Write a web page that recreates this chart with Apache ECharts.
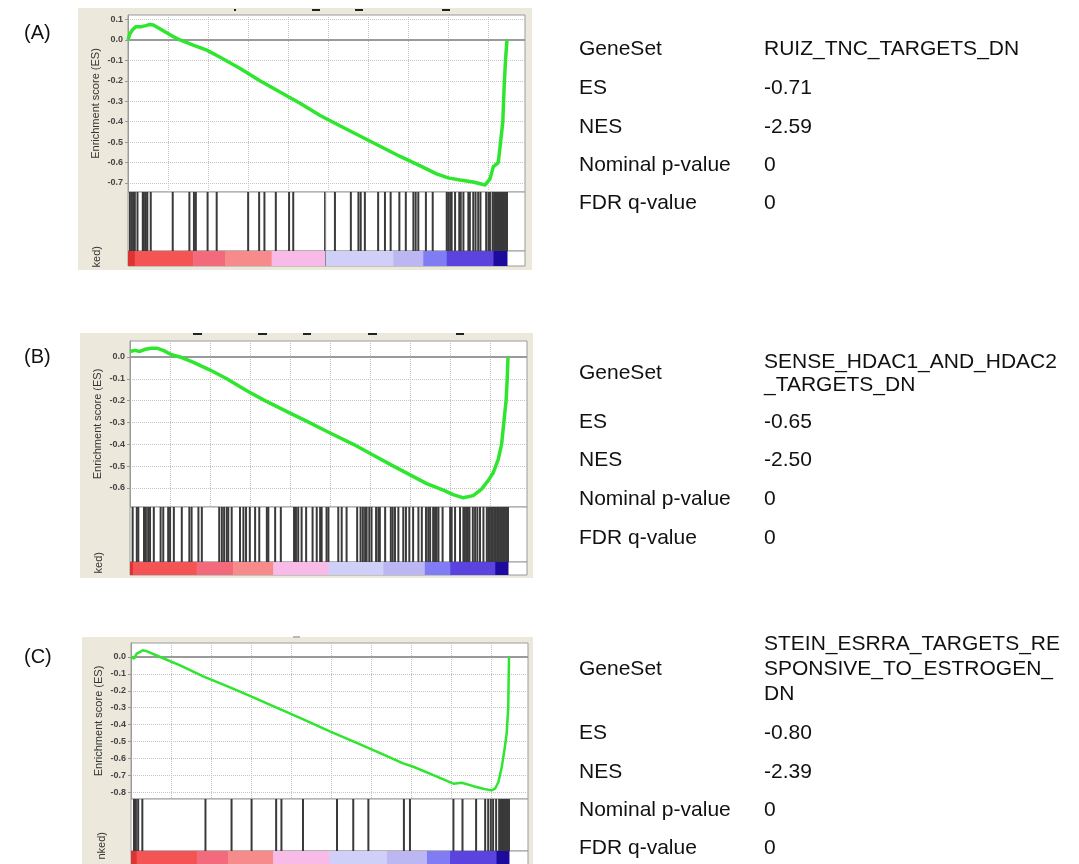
<!DOCTYPE html>
<html lang="en">
<head>
<meta charset="UTF-8">
<title>GSEA enrichment plots</title>
<script src="https://cdn.jsdelivr.net/npm/echarts@6/dist/echarts.min.js"></script>
<style>
  html, body { margin: 0; padding: 0; background: #fff; }
  #main { width: 1079px; height: 864px; }
</style>
</head>
<body>
<div id="main"></div>
<script>
// running enrichment score: [position in ranked list (% of genes), ES]
const esA = [[0,0],[0.5,0.03],[1.2,0.05],[2.1,0.065],[3.6,0.065],[4.0,0.06],[4.7,0.07],[5.6,0.075],[6.7,0.073],
  [8.4,0.055],[11.1,0.025],[13.7,0],[17.2,-0.025],[20.8,-0.05],[24.3,-0.085],[29.6,-0.14],[34.8,-0.2],
  [40.1,-0.255],[45.4,-0.31],[50.7,-0.37],[55.9,-0.42],[61.2,-0.47],[66.5,-0.52],[71.8,-0.57],[77.0,-0.615],
  [81.4,-0.655],[84.5,-0.675],[87.6,-0.685],[91.1,-0.695],[94.2,-0.71],[95.5,-0.68],[96.4,-0.62],[97.7,-0.6],
  [98.3,-0.5],[98.9,-0.4],[99.2,-0.25],[99.6,-0.1],[100,0]];
const esB = [[0,0.025],[1.3,0.03],[2.6,0.025],[4.0,0.035],[5.7,0.04],[7.1,0.04],[8.8,0.03],[11.0,0.01],[13.2,0],
  [16.8,-0.025],[21.2,-0.06],[25.6,-0.1],[30.9,-0.155],[35.7,-0.2],[41.4,-0.249],[46.7,-0.294],[52.0,-0.34],
  [59.1,-0.4],[64.4,-0.45],[69.7,-0.5],[74.1,-0.54],[78.5,-0.58],[82.9,-0.61],[85.5,-0.63],[88.2,-0.645],
  [90.8,-0.635],[93.0,-0.605],[94.8,-0.565],[96.1,-0.53],[97.4,-0.47],[98.3,-0.4],[98.9,-0.3],[99.5,-0.2],
  [99.8,-0.1],[100,0]];
const esC = [[0,0],[0.8,-0.01],[1.5,0.02],[2.4,0.03],[3.1,0.04],[4.1,0.035],[7.7,0],[13.0,-0.05],[19.1,-0.115],
  [26.2,-0.18],[31.9,-0.235],[38.5,-0.3],[45.6,-0.37],[52.6,-0.44],[58.8,-0.5],[65.0,-0.56],[72.0,-0.63],
  [74.7,-0.65],[80.0,-0.7],[85.3,-0.75],[87.5,-0.745],[90.6,-0.765],[93.2,-0.78],[95.4,-0.79],[96.3,-0.78],
  [97.2,-0.74],[98.1,-0.65],[98.8,-0.55],[99.4,-0.45],[99.8,-0.3],[100,0]];

// positions of gene-set members in the ranked list (%)
const hitsA = [0.5,1.0,1.4,1.8,2.5,3.9,4.2,4.7,5.1,6.0,11.8,16.2,17.4,17.9,21.0,23.4,31.7,34.6,36.0,39.0,
  42.5,43.6,52.0,54.6,58.8,60.8,61.4,62.5,66.0,67.8,69.3,71.6,73.3,75.3,75.9,76.6,78.6,80.4,84.1,84.5,85.0,
  85.4,86.3,87.4,87.8,88.5,89.8,90.2,91.1,91.7,92.4,93.0,94.5,95.1,95.5,96.2,96.6,97.0,97.3,97.6,97.9,98.2,
  98.5,98.8,99.1,99.4,99.7,100];
const hitsB = [0.7,1.8,2.2,3.7,4.2,4.8,5.3,6.3,8.1,8.8,10.1,10.6,11.6,13.7,15.7,16.3,18.1,19.0,23.6,24.3,
  24.9,25.6,26.0,26.9,29.1,30.0,30.7,31.7,33.1,34.2,36.2,36.6,38.4,39.9,43.4,43.9,44.5,45.4,46.6,48.3,49.4,
  50.3,50.7,52.0,52.5,55.1,56.0,57.3,60.1,61.0,61.6,62.2,62.6,63.3,63.9,65.1,65.7,66.1,67.5,69.0,69.5,70.1,
  71.0,72.3,73.0,73.9,74.9,76.3,77.2,78.3,78.9,79.4,80.2,80.7,81.1,81.6,82.7,84.7,85.1,86.0,87.3,88.2,88.6,
  89.0,89.4,89.8,90.7,91.3,91.9,92.6,93.5,94.4,94.8,95.2,95.6,96.0,96.4,96.8,97.2,97.6,98.0,98.4,98.8,99.2,
  99.6,100];
const hitsC = [0.8,1.3,1.9,3.0,19.7,26.6,31.9,38.4,39.8,45.5,54.5,58.8,62.8,72.2,73.8,85.3,87.7,91.3,93.7,
  94.5,95.2,95.8,96.6,97.4,97.7,98.0,98.3,98.6,98.9,99.2,99.5,99.8,100];

// ranked-metric heat strip: [from %, to %, level 1 (most positive) .. 10 (most negative)]
const heatA = [[0,1.8,1],[1.8,17.2,2],[17.2,25.6,3],[25.6,37.9,4],[37.9,52,5],[52,70,6],[70,77.9,7],
  [77.9,84.1,8],[84.1,96.4,9],[96.4,100,10]];
const heatB = [[0,0.8,1],[0.8,17.6,2],[17.6,27.3,3],[27.3,37.9,4],[37.9,52.5,5],[52.5,67,6],[67,78,7],
  [78,84.7,8],[84.7,96.6,9],[96.6,100,10]];
const heatC = [[0,1.5,1],[1.5,17.4,2],[17.4,25.7,3],[25.7,37.6,4],[37.6,52.5,5],[52.5,67.7,6],[67.7,78.3,7],
  [78.3,84.4,8],[84.4,96.7,9],[96.7,100,10]];

const ticksA = [0.1, 0, -0.1, -0.2, -0.3, -0.4, -0.5, -0.6, -0.7];
const ticksB = [0, -0.1, -0.2, -0.3, -0.4, -0.5, -0.6];
const ticksC = [0, -0.1, -0.2, -0.3, -0.4, -0.5, -0.6, -0.7, -0.8];

const statLabels = ['ES', 'NES', 'Nominal p-value', 'FDR q-value'];
const geneSetA = ['RUIZ_TNC_TARGETS_DN'];
const geneSetB = ['SENSE_HDAC1_AND_HDAC2', '_TARGETS_DN'];
const geneSetC = ['STEIN_ESRRA_TARGETS_RE', 'SPONSIVE_TO_ESTROGEN_', 'DN'];
const statsA = ['-0.71', '-2.59', '0', '0'];
const statsB = ['-0.65', '-2.50', '0', '0'];
const statsC = ['-0.80', '-2.39', '0', '0'];

const levelColors = ['#dd3333', '#f45454', '#f26a7c', '#f78a8a', '#f8bae6',
  '#d0cff8', '#bcb7f3', '#7f7cf4', '#5b43e0', '#1d0b9e'];

// layout of each panel (pixels)
const panels = [
  { tag: '(A)', tagY: 33, es: esA, hits: hitsA, heat: heatA, ticks: ticksA, geneSet: geneSetA, stats: statsA,
    frame: [78, 8, 454, 262], left: 128, top: 15, width: 397, mainH: 177, hitsH: 59, barH: 15,
    yMin: -0.744, yMax: 0.122, xMax: 104.75, xStep: 10.554, zeroCross: 52,
    rankText: 'ked)', rankPos: [97, 246], nameY: [49], statY: [88, 127, 165, 203],
    marks: [[234, 9, 2, 2], [312, 9, 8, 2], [355, 9, 8, 2], [442, 9, 8, 2]] },
  { tag: '(B)', tagY: 357, es: esB, hits: hitsB, heat: heatB, ticks: ticksB, geneSet: geneSetB, stats: statsB,
    frame: [80, 333, 453, 245], left: 130, top: 341, width: 397, mainH: 166, hitsH: 55, barH: 13,
    yMin: -0.687, yMax: 0.073, xMax: 105.03, xStep: 10.582, zeroCross: null,
    rankText: 'ked)', rankPos: [99, 552], nameY: [362, 385], statY: [422, 460, 499, 538],
    marks: [[193, 333, 9, 2], [258, 333, 9, 2], [303, 333, 8, 2], [368, 333, 9, 2], [456, 333, 8, 2]] },
  { tag: '(C)', tagY: 657, es: esC, hits: hitsC, heat: heatC, ticks: ticksC, geneSet: geneSetC, stats: statsC,
    frame: [82, 637, 451, 227], left: 131, top: 643, width: 397, mainH: 156, hitsH: 52, barH: 14,
    yMin: -0.841, yMax: 0.083, xMax: 105.03, xStep: 10.582, zeroCross: null,
    rankText: 'nked)', rankPos: [102, 832], nameY: [644, 669, 694], statY: [733, 772, 810, 848],
    marks: [[293, 636, 7, 2]] }
];

function hitItem(params, api) {
  const x = api.value(0);
  const top = api.coord([x, 1]);
  const bot = api.coord([x, 0]);
  return {
    type: 'rect',
    shape: { x: top[0] - 1, y: top[1], width: 2, height: bot[1] - top[1] },
    style: { fill: '#3a3a3a' }
  };
}

function heatItem(params, api) {
  const a = api.coord([api.value(0), 1]);
  const b = api.coord([api.value(1), 0]);
  return {
    type: 'rect',
    shape: { x: a[0], y: a[1], width: b[0] - a[0] + 0.5, height: b[1] - a[1] },
    style: { fill: api.visual('color') }
  };
}

const grids = [], xAxes = [], yAxes = [], series = [], graphics = [], heatSeriesIdx = [];
const font = '"Liberation Sans", Arial, sans-serif';

panels.forEach(function (p, i) {
  const g = i * 3;
  const gridBase = { left: p.left, width: p.width, show: true, backgroundColor: '#fff',
    borderColor: '#9a9a9a', borderWidth: 1, outerBoundsMode: 'none' };
  grids.push(Object.assign({}, gridBase, { top: p.top, height: p.mainH }));
  grids.push(Object.assign({}, gridBase, { top: p.top + p.mainH, height: p.hitsH }));
  grids.push(Object.assign({}, gridBase, { top: p.top + p.mainH + p.hitsH, height: p.barH }));

  xAxes.push({ type: 'value', gridIndex: g, min: 0, max: p.xMax, interval: p.xStep,
    axisLabel: { show: false }, axisTick: { show: false }, axisLine: { show: false },
    splitLine: { show: true, lineStyle: { type: 'dotted', color: '#c4c4c4', width: 1 } } });
  xAxes.push({ type: 'value', gridIndex: g + 1, min: 0, max: p.xMax, show: false });
  xAxes.push({ type: 'value', gridIndex: g + 2, min: 0, max: p.xMax, show: false });

  yAxes.push({
    type: 'value', gridIndex: g, min: p.yMin, max: p.yMax,
    name: 'Enrichment score (ES)', nameLocation: 'middle', nameGap: 27,
    nameTextStyle: { fontSize: 11, color: '#333', fontFamily: font },
    axisLine: { show: true, lineStyle: { color: '#9a9a9a' } },
    axisTick: { show: true, length: 3, customValues: p.ticks, lineStyle: { color: '#9a9a9a' } },
    axisLabel: { customValues: p.ticks, fontSize: 9, fontWeight: 'bold', color: '#444', margin: 5,
      fontFamily: font, formatter: function (v) { return v.toFixed(1); } },
    splitLine: { show: true, lineStyle: { type: 'dotted', color: '#c4c4c4', width: 1 } }
  });
  yAxes.push({ type: 'value', gridIndex: g + 1, min: 0, max: 1, show: false });
  yAxes.push({ type: 'value', gridIndex: g + 2, min: 0, max: 1, show: false });

  series.push({
    type: 'line', xAxisIndex: g, yAxisIndex: g, data: p.es, showSymbol: false, z: 5,
    lineStyle: { color: '#2ee62e', width: i === 2 ? 2.5 : 3.5 },
    markLine: { silent: true, symbol: 'none', label: { show: false },
      lineStyle: { color: '#9a9a9a', type: 'solid', width: 2 }, data: [{ yAxis: 0 }] }
  });
  const hitSeries = {
    type: 'custom', xAxisIndex: g + 1, yAxisIndex: g + 1, renderItem: hitItem,
    data: p.hits.map(function (h) { return [h]; }), encode: { x: 0 }, silent: true
  };
  const heatSeries = {
    type: 'custom', xAxisIndex: g + 2, yAxisIndex: g + 2, renderItem: heatItem,
    data: p.heat, encode: { x: [0, 1] }, silent: true
  };
  if (p.zeroCross !== null) {
    const ml = { silent: true, symbol: 'none', label: { show: false },
      lineStyle: { color: '#8a8a8a', type: 'solid', width: 1 }, data: [{ xAxis: p.zeroCross }] };
    hitSeries.markLine = ml;
    heatSeries.markLine = ml;
  }
  series.push(hitSeries);
  heatSeriesIdx.push(series.length);
  series.push(heatSeries);

  // beige frame of the screenshot and leftover title fragments
  graphics.push({ type: 'rect', z: -10, shape: { x: p.frame[0], y: p.frame[1], width: p.frame[2], height: p.frame[3] },
    style: { fill: '#ece9dc' } });
  p.marks.forEach(function (m) {
    graphics.push({ type: 'rect', z: -5, shape: { x: m[0], y: m[1], width: m[2], height: m[3] },
      style: { fill: i === 2 ? '#b8b8b8' : '#222' } });
  });
  graphics.push({ type: 'text', x: p.rankPos[0], y: p.rankPos[1], rotation: Math.PI / 2,
    style: { text: p.rankText, font: '11px ' + font, fill: '#333', align: 'right', textAlign: 'right',
      verticalAlign: 'middle', textVerticalAlign: 'middle' } });
  graphics.push({ type: 'text', x: 24, y: p.tagY,
    style: { text: p.tag, font: '20px ' + font, fill: '#111', verticalAlign: 'middle', textVerticalAlign: 'middle' } });

  // statistics table on the right
  const nameMid = (p.nameY[0] + p.nameY[p.nameY.length - 1]) / 2;
  graphics.push({ type: 'text', x: 579, y: nameMid,
    style: { text: 'GeneSet', font: '21px ' + font, fill: '#111', verticalAlign: 'middle', textVerticalAlign: 'middle' } });
  p.geneSet.forEach(function (line, k) {
    graphics.push({ type: 'text', x: 764, y: p.nameY[k],
      style: { text: line, font: '21px ' + font, fill: '#111', verticalAlign: 'middle', textVerticalAlign: 'middle' } });
  });
  statLabels.forEach(function (lab, k) {
    graphics.push({ type: 'text', x: 579, y: p.statY[k],
      style: { text: lab, font: '21px ' + font, fill: '#111', verticalAlign: 'middle', textVerticalAlign: 'middle' } });
    graphics.push({ type: 'text', x: 764, y: p.statY[k],
      style: { text: p.stats[k], font: '21px ' + font, fill: '#111', verticalAlign: 'middle', textVerticalAlign: 'middle' } });
  });
});

const option = {
  animation: false,
  backgroundColor: '#fff',
  grid: grids,
  xAxis: xAxes,
  yAxis: yAxes,
  visualMap: {
    show: false, type: 'piecewise', seriesIndex: heatSeriesIdx, dimension: 2,
    pieces: levelColors.map(function (c, k) { return { value: k + 1, color: c }; })
  },
  graphic: { elements: graphics },
  series: series
};

const myChart = echarts.init(document.getElementById('main'), null, { renderer: 'canvas' });
myChart.setOption(option);
</script>
</body>
</html>
